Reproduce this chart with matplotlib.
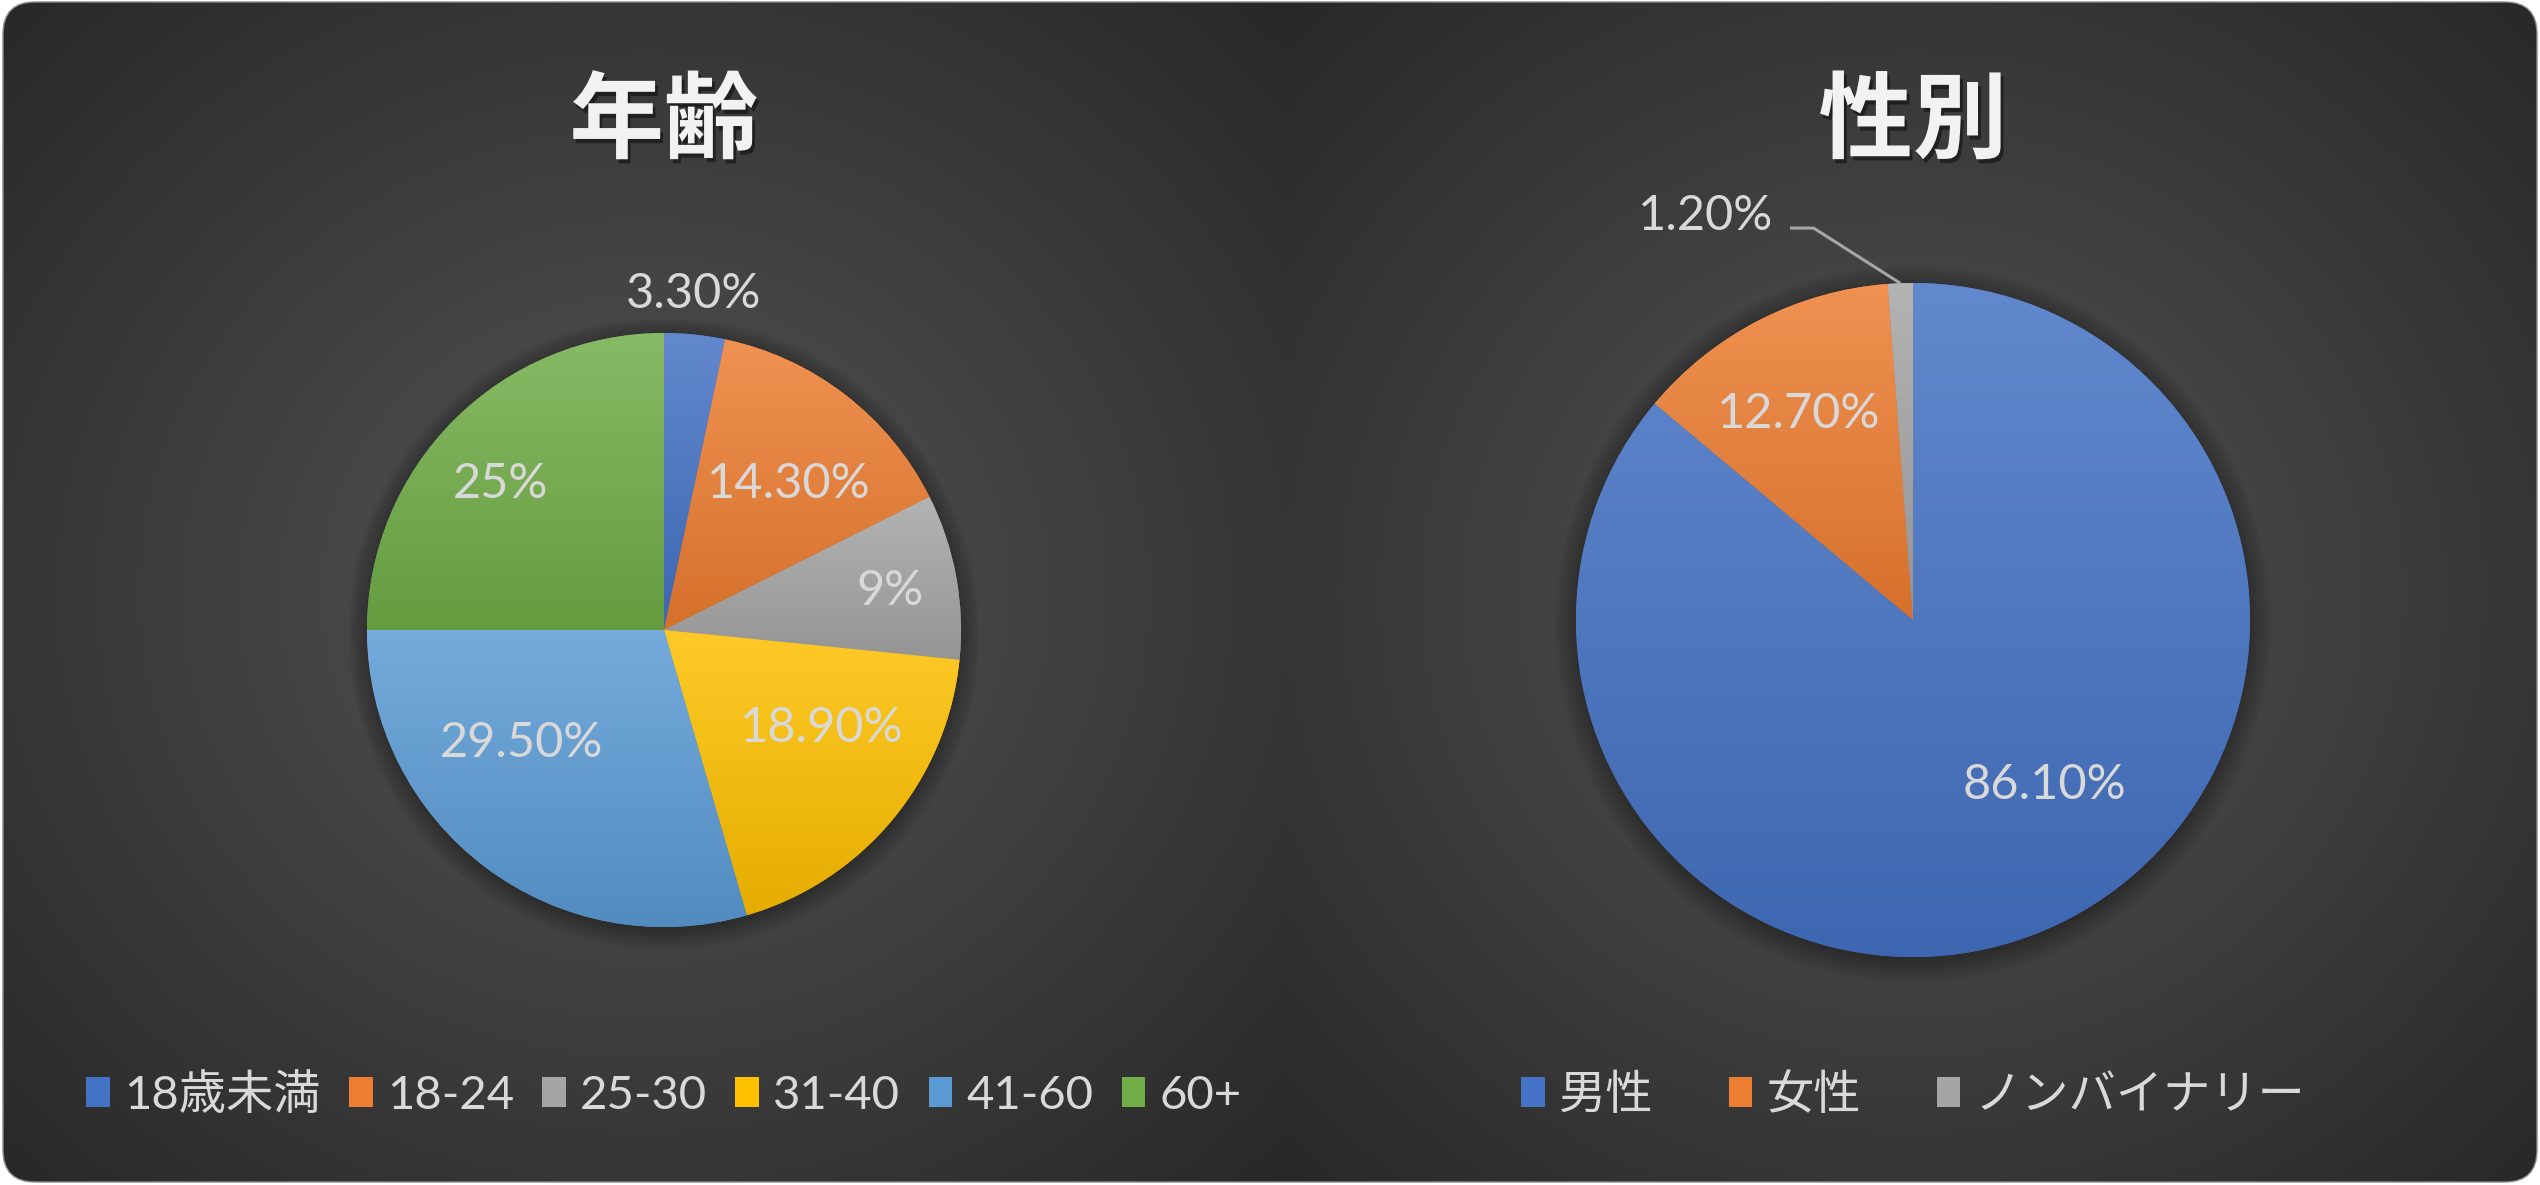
import matplotlib.pyplot as plt
import matplotlib.patheffects as pe
import numpy as np
from matplotlib.patches import FancyBboxPatch, Circle
from matplotlib.colors import to_rgb

W, H = 2540, 1185

# data
age_groups = ["18歳未満", "18-24", "25-30", "31-40", "41-60", "60+"]
age_share = [3.3, 14.3, 9, 18.9, 29.5, 25]
age_text = ["3.30%", "14.30%", "9%", "18.90%", "29.50%", "25%"]

gender_groups = ["男性", "女性", "ノンバイナリー"]
gender_share = [86.1, 12.7, 1.2]
gender_text = ["86.10%", "12.70%", "1.20%"]

age_colors = ["#4472C4", "#ED7D31", "#A5A5A5", "#FFC000", "#5B9BD5", "#70AD47"]
gender_colors = ["#4472C4", "#ED7D31", "#A5A5A5"]

# where excel put the labels (pie radius = 1)
age_label_xy = [(0.10, 1.13), (0.42, 0.49), (0.76, 0.13), (0.53, -0.33), (-0.48, -0.38), (-0.55, 0.49)]
gender_label_xy = [(0.39, -0.49), (-0.34, 0.61), (-0.615, 1.20)]

plt.rcParams['font.family'] = ['Lato', 'Noto Sans CJK JP', 'DejaVu Sans']
TXT = '#D9D9D9'
LBL_SIZE = 35
LEG_SIZE = 34

fig = plt.figure(figsize=(W / 100, H / 100), dpi=100, facecolor='white')

# background: two dark panels with radial gradient
bg = fig.add_axes([0, 0, 1, 1])
bg.set_xlim(0, W)
bg.set_ylim(H, 0)
bg.axis('off')

split = 1287
xs = np.linspace(0, W, 636)
ys = np.linspace(0, H, 297)
X, Y = np.meshgrid(xs, ys)
left = X < split
cx = np.where(left, split / 2, (split + W) / 2)
hw = np.where(left, split / 2, (W - split) / 2)
d = np.sqrt(((X - cx) / hw) ** 2 + ((Y - H / 2) / (H / 2)) ** 2) / np.sqrt(2)
d = np.clip(d, 0, 1)
shade = (0x55 - (0x55 - 0x28) * d) / 255.0
img = np.dstack([shade, shade, shade])
im = bg.imshow(img, extent=(0, W, H, 0), interpolation='bilinear', aspect='auto')
box = FancyBboxPatch((3, 2), W - 6, H - 5, boxstyle="round,pad=0,rounding_size=32",
                     fc='none', ec='#8c8c8c', lw=1.0)
bg.add_patch(box)
im.set_clip_path(box)


def pie_axes(cx, cy, r, half=420):
    ax = fig.add_axes([(cx - half) / W, (H - cy - half) / H, 2 * half / W, 2 * half / H])
    return ax, half / r


def gradient_fill(ax, wedges, colors):
    # excel-ish linear gradient per slice, lighter on top
    t = np.linspace(0, 1, 256)[:, None, None]
    for w, c in zip(wedges, colors):
        bb = w.get_path().get_extents()
        base = np.array(to_rgb(c))
        top = base + (1 - base) * 0.16
        bot = base * 0.90
        g = top * (1 - t) + bot * t
        gi = ax.imshow(g, extent=(bb.x0, bb.x1, bb.y0, bb.y1), origin='upper',
                       aspect='auto', interpolation='bilinear', zorder=2)
        gi.set_clip_path(w)


def draw_pie(cx, cy, r, values, colors, texts, label_xy):
    ax, lim = pie_axes(cx, cy, r)
    for i in range(10):
        ax.add_patch(Circle((0.0, -0.012), 1.0 + 0.007 * i, color='black', alpha=0.03, lw=0, zorder=0))
    wedges, _ = ax.pie(values, colors=colors, startangle=90, counterclock=False, radius=1,
                       wedgeprops=dict(linewidth=0))
    gradient_fill(ax, wedges, colors)
    for t, (x, y) in zip(texts, label_xy):
        ax.text(x, y, t, ha='center', va='center', fontsize=LBL_SIZE, color=TXT, zorder=5)
    ax.set_xlim(-lim, lim)
    ax.set_ylim(-lim, lim)
    ax.set_aspect('equal')
    ax.axis('off')
    return ax, wedges


ax1, w1 = draw_pie(664, 630, 297, age_share, age_colors, age_text, age_label_xy)
ax2, w2 = draw_pie(1913, 620, 337, gender_share, gender_colors, gender_text, gender_label_xy)

# leader line for the small slice
mid = np.deg2rad(90 + gender_share[2] / sum(gender_share) * 180)
lx, ly = gender_label_xy[2]
ax2.plot([lx + 0.25, lx + 0.32, np.cos(mid)], [ly - 0.037, ly - 0.037, np.sin(mid)],
         color='#A6A6A6', lw=2.2, zorder=4, solid_capstyle='butt')

# titles
shadow = [pe.withSimplePatchShadow(offset=(2, -3), shadow_rgbFace='black', alpha=0.45)]
for x, title in [(664, "年齢"), (1913, "性別")]:
    fig.text(x / W, 1 - 123 / H, title, ha='center', va='center', fontsize=68,
             fontweight='bold', color='#F2F2F2', family=['Noto Sans CJK JP', 'DejaVu Sans'],
             path_effects=shadow)

# legends
fig.legend(w1, age_groups, loc='center', bbox_to_anchor=(664 / W, 1 - 1095 / H), ncol=6,
           frameon=False, fontsize=LEG_SIZE, labelcolor=TXT, handlelength=0.5, handleheight=0.6,
           handletextpad=0.3, columnspacing=0.6)
fig.legend(w2, gender_groups, loc='center', bbox_to_anchor=(1913 / W, 1 - 1095 / H), ncol=3,
           frameon=False, fontsize=LEG_SIZE, labelcolor=TXT, handlelength=0.5, handleheight=0.6,
           handletextpad=0.3, columnspacing=1.6)

fig.savefig('out.png', dpi=100, facecolor='white')
